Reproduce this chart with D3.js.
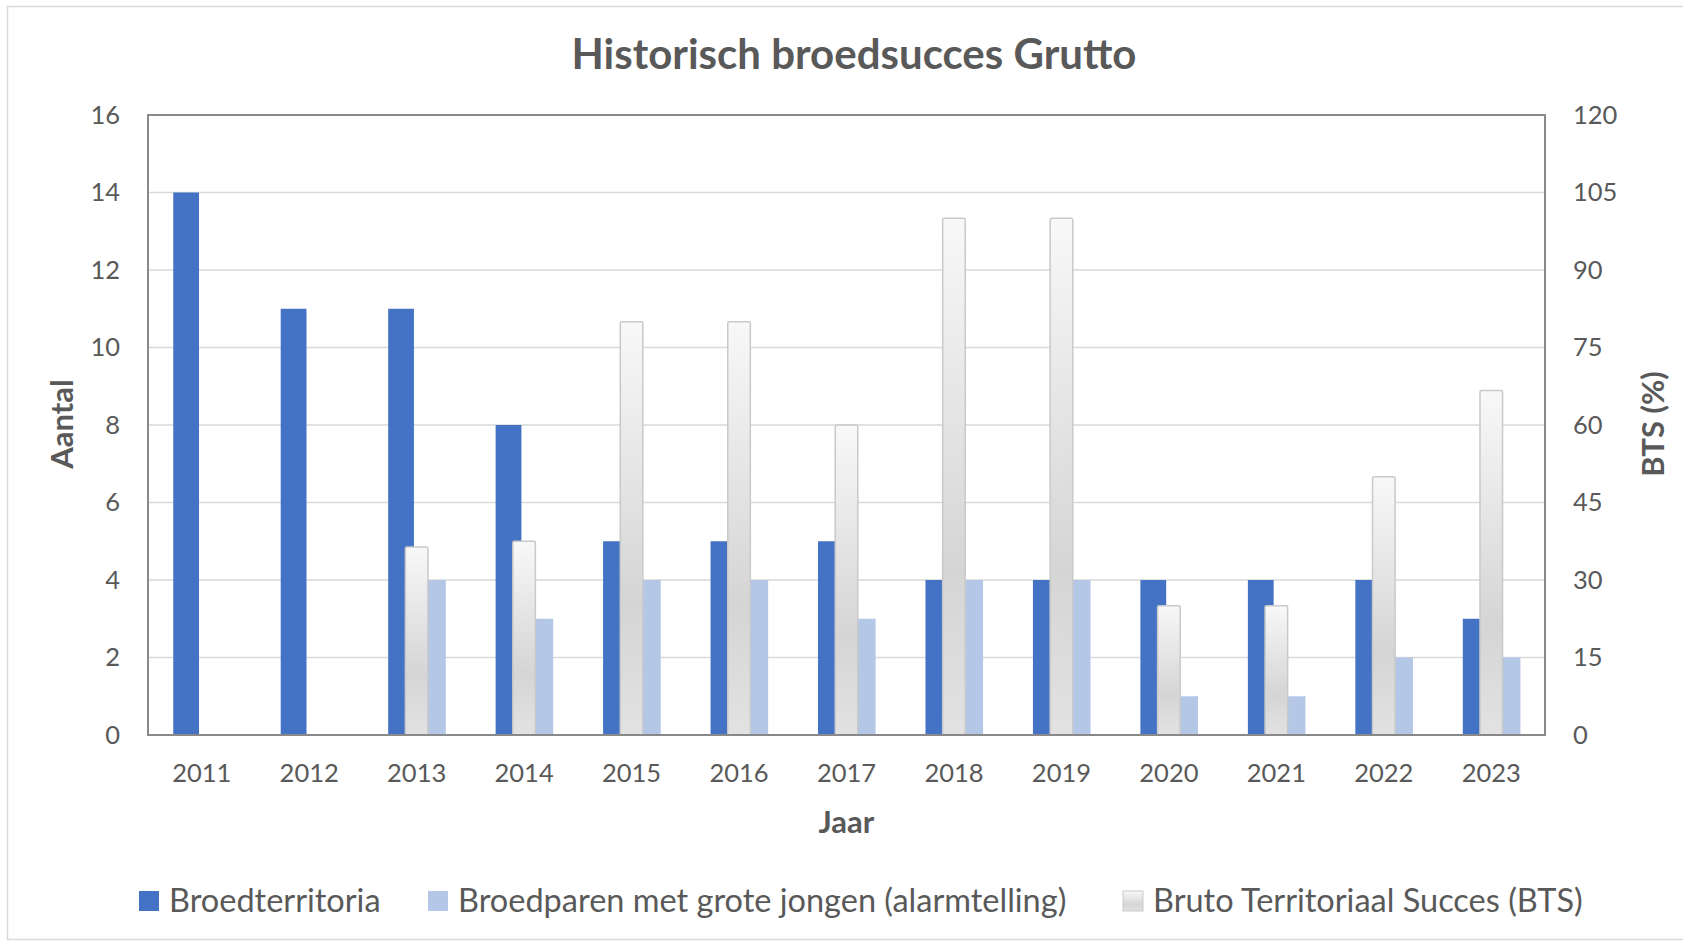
<!DOCTYPE html>
<html>
<head>
<meta charset="utf-8">
<script src="https://cdn.jsdelivr.net/npm/d3@7"></script>
<style>
  body { margin: 0; background: #fff; }
  text { font-family: Lato, "Open Sans", sans-serif; fill: #595959; }
</style>
</head>
<body>
<svg id="chart"></svg>
<script>
// data
const years = ["2011", "2012", "2013", "2014", "2015", "2016", "2017", "2018", "2019", "2020", "2021", "2022", "2023"]
const broedterritoria = [14, 11, 11, 8, 5, 5, 5, 4, 4, 4, 4, 4, 3]
const broedparen = [null, null, 4, 3, 4, 4, 3, 4, 4, 1, 1, 2, 2]
const bts = [null, null, 36.4, 37.5, 80, 80, 60, 100, 100, 25, 25, 50, 66.7]
const leftTicks = [0, 2, 4, 6, 8, 10, 12, 14, 16]
const rightTicks = [0, 15, 30, 45, 60, 75, 90, 105, 120]
const seriesNames = ["Broedterritoria", "Broedparen met grote jongen (alarmtelling)", "Bruto Territoriaal Succes (BTS)"]

const width = 1683
const height = 942
const textColor = "#595959"
const blue = "#4472c4"
const lightBlue = "#b4c7e7"
const gridColor = "#d9d9d9"
const frameColor = "#898989"

const plot = {left: 148, right: 1545, top: 115, bottom: 735}

const svg = d3.select("#chart")
  .attr("width", width)
  .attr("height", height)

// gradient for BTS bars
const defs = svg.append("defs")
const grad = defs.append("linearGradient")
  .attr("id", "btsGrad")
  .attr("x1", 0).attr("y1", 0).attr("x2", 0).attr("y2", 1)
grad.append("stop").attr("offset", "0%").attr("stop-color", "#f8f8f8")
grad.append("stop").attr("offset", "68%").attr("stop-color", "#d5d5d5")
grad.append("stop").attr("offset", "100%").attr("stop-color", "#e2e2e2")

svg.append("rect")
  .attr("width", width)
  .attr("height", height)
  .attr("fill", "#fff")

// outer chart border
svg.append("rect")
  .attr("x", 7.5)
  .attr("y", 6.5)
  .attr("width", width)
  .attr("height", 933)
  .attr("fill", "none")
  .attr("stroke", "#d9d9d9")
  .attr("stroke-width", 1.5)

const x = d3.scaleBand()
  .domain(years)
  .range([plot.left, plot.right])

const bw = x.bandwidth()

const xInner = d3.scaleBand()
  .domain(["a", "b"])
  .range([bw * 0.235, bw * 0.771])
  .paddingInner(0.19)

const yLeft = d3.scaleLinear()
  .domain([0, 16])
  .range([plot.bottom, plot.top])

const yRight = d3.scaleLinear()
  .domain([0, 120])
  .range([plot.bottom, plot.top])

// gridlines
svg.append("g")
  .selectAll("line")
  .data(leftTicks.slice(1, -1))
  .join("line")
  .attr("x1", plot.left)
  .attr("x2", plot.right)
  .attr("y1", d => yLeft(d))
  .attr("y2", d => yLeft(d))
  .attr("stroke", gridColor)
  .attr("stroke-width", 1.5)

const rows = years.map((y, i) => ({year: y, a: broedterritoria[i], b: broedparen[i], bts: bts[i]}))

// primary bars
svg.append("g")
  .selectAll("rect")
  .data(rows.filter(d => d.a != null))
  .join("rect")
  .attr("x", d => x(d.year) + xInner("a"))
  .attr("y", d => yLeft(d.a))
  .attr("width", xInner.bandwidth())
  .attr("height", d => plot.bottom - yLeft(d.a))
  .attr("fill", blue)

svg.append("g")
  .selectAll("rect")
  .data(rows.filter(d => d.b != null))
  .join("rect")
  .attr("x", d => x(d.year) + xInner("b"))
  .attr("y", d => yLeft(d.b))
  .attr("width", xInner.bandwidth())
  .attr("height", d => plot.bottom - yLeft(d.b))
  .attr("fill", lightBlue)

// secondary bars (BTS) on top
const btsW = bw * 0.21
svg.append("g")
  .selectAll("rect")
  .data(rows.filter(d => d.bts != null))
  .join("rect")
  .attr("x", d => x(d.year) + bw / 2 - btsW / 2)
  .attr("y", d => yRight(d.bts))
  .attr("width", btsW)
  .attr("height", d => plot.bottom - yRight(d.bts))
  .attr("rx", 1.5)
  .attr("fill", "url(#btsGrad)")
  .attr("stroke", "#c9c9c9")
  .attr("stroke-width", 1.5)

// plot frame
svg.append("rect")
  .attr("x", plot.left)
  .attr("y", plot.top)
  .attr("width", plot.right - plot.left)
  .attr("height", plot.bottom - plot.top)
  .attr("fill", "none")
  .attr("stroke", frameColor)
  .attr("stroke-width", 2)

// axes
const leftAxis = svg.append("g")
  .attr("transform", `translate(${plot.left},0)`)
  .call(d3.axisLeft(yLeft).tickValues(leftTicks).tickSize(0).tickPadding(28))
leftAxis.select(".domain").remove()

const rightAxis = svg.append("g")
  .attr("transform", `translate(${plot.right},0)`)
  .call(d3.axisRight(yRight).tickValues(rightTicks).tickSize(0).tickPadding(28))
rightAxis.select(".domain").remove()

const bottomAxis = svg.append("g")
  .attr("transform", `translate(0,${plot.bottom})`)
  .call(d3.axisBottom(x).tickSize(0).tickPadding(29))
bottomAxis.select(".domain").remove()

svg.selectAll(".tick text")
  .style("font-family", "Lato, sans-serif")
  .style("font-size", "25.5px")
  .attr("fill", textColor)

// titles
svg.append("text")
  .attr("x", 854)
  .attr("y", 54)
  .attr("dy", "0.35em")
  .attr("text-anchor", "middle")
  .style("font-size", "42px")
  .style("font-weight", "bold")
  .text("Historisch broedsucces Grutto")

svg.append("text")
  .attr("x", (plot.left + plot.right) / 2)
  .attr("y", 822)
  .attr("dy", "0.35em")
  .attr("text-anchor", "middle")
  .style("font-size", "31px")
  .style("font-weight", "bold")
  .text("Jaar")

svg.append("text")
  .attr("transform", "translate(62,424) rotate(-90)")
  .attr("dy", "0.35em")
  .attr("text-anchor", "middle")
  .style("font-size", "31px")
  .style("font-weight", "bold")
  .text("Aantal")

svg.append("text")
  .attr("transform", "translate(1653,424) rotate(-90)")
  .attr("dy", "0.35em")
  .attr("text-anchor", "middle")
  .style("font-size", "31px")
  .style("font-weight", "bold")
  .text("BTS (%)")

// legend
const legendX = [139, 428, 1123]
const legendFill = [blue, lightBlue, "url(#btsGrad)"]
const legend = svg.append("g")
  .selectAll("g")
  .data(seriesNames)
  .join("g")
  .attr("transform", (d, i) => `translate(${legendX[i]},901)`)

legend.append("rect")
  .attr("x", 0)
  .attr("y", -10)
  .attr("width", 20)
  .attr("height", 20)
  .attr("fill", (d, i) => legendFill[i])
  .attr("stroke", (d, i) => i === 2 ? "#c9c9c9" : "none")
  .attr("stroke-width", 1)

legend.append("text")
  .attr("x", 30)
  .attr("dy", "0.35em")
  .style("font-size", "32.5px")
  .text(d => d)
</script>
</body>
</html>
